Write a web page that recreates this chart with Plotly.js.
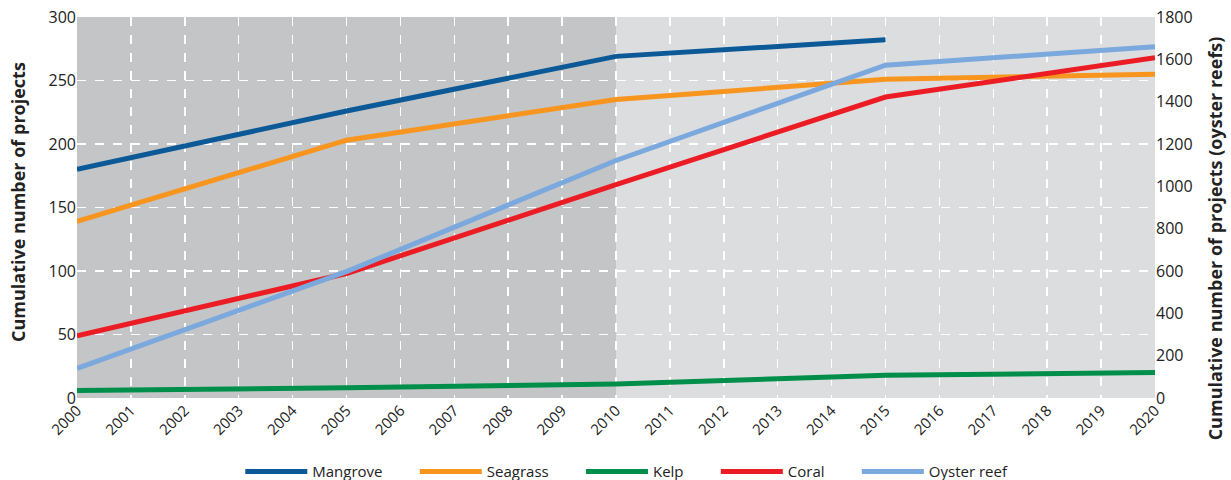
<!DOCTYPE html>
<html>
<head>
<meta charset="utf-8">
<script src="https://cdn.plot.ly/plotly-3.0.1.min.js"></script>
<style>html,body{margin:0;padding:0;background:#fff;}#chart{width:1231px;height:480px;}</style>
</head>
<body>
<div id="chart"></div>
<script>
const years = [2000, 2005, 2010, 2015, 2020];
const mangroveYears = [2000, 2005, 2010, 2015];
const mangrove = [180, 226, 269, 282];
const seagrass = [139, 203, 235, 251, 255];
const kelp = [6, 8, 11, 18, 20];
const coral = [49, 98, 168, 237, 268];
const oysterReef = [140, 597, 1122, 1572, 1660];
const tickYears = [2000,2001,2002,2003,2004,2005,2006,2007,2008,2009,2010,2011,2012,2013,2014,2015,2016,2017,2018,2019,2020];
const periodBounds = [2000, 2010, 2020];
const periodColors = ['#c4c5c7', '#dcdddf'];
const leftTitle = 'Cumulative number of projects';
const rightTitle = 'Cumulative number of projects (oyster reefs)';

const FONT = 'Open Sans, Noto Sans, sans-serif';
const LW = 5;
const PAD = '\u00a0\u00a0\u00a0\u00a0\u00a0\u00a0\u00a0';

const traces = [
  {x: mangroveYears, y: mangrove, name: 'Mangrove' + PAD, mode: 'lines', line: {color: '#0b5a97', width: LW}},
  {x: years, y: seagrass, name: 'Seagrass' + PAD, mode: 'lines', line: {color: '#f7951f', width: LW}},
  {x: years, y: kelp, name: 'Kelp' + PAD, mode: 'lines', line: {color: '#008f4a', width: LW}},
  {x: years, y: coral, name: 'Coral' + PAD, mode: 'lines', line: {color: '#ec1c24', width: LW}},
  {x: years, y: oysterReef, name: 'Oyster reef', mode: 'lines', yaxis: 'y2', line: {color: '#7ba8dd', width: LW}}
];

const shapes = [];
for (let i = 0; i < periodColors.length; i++) {
  shapes.push({type: 'rect', xref: 'x', yref: 'paper', x0: periodBounds[i], x1: periodBounds[i+1], y0: 0, y1: 1,
    fillcolor: periodColors[i], line: {width: 0}, layer: 'below'});
}

const annotations = [
  {text: '<b>' + leftTitle + '</b>', xref: 'paper', yref: 'paper', x: -0.0545, y: 0.515, xanchor: 'center', yanchor: 'middle',
    textangle: -90, showarrow: false, font: {family: FONT, size: 18, color: '#222'}},
  {text: '<b>' + rightTitle + '</b>', xref: 'paper', yref: 'paper', x: 1.056, y: 0.42, xanchor: 'center', yanchor: 'middle',
    textangle: -90, showarrow: false, font: {family: FONT, size: 18, color: '#222'}}
];

const layout = {
  width: 1231, height: 480,
  margin: {l: 77, r: 76, t: 17, b: 82},
  paper_bgcolor: '#ffffff',
  plot_bgcolor: 'rgba(0,0,0,0)',
  font: {family: FONT, color: '#222', size: 15},
  showlegend: true,
  legend: {orientation: 'h', xref: 'paper', x: 0.51, xanchor: 'center', yref: 'container', y: 0.017, yanchor: 'middle',
    font: {family: FONT, size: 15, color: '#222'}, itemwidth: 62},
  xaxis: {range: [2000, 2020], tickvals: tickYears, ticktext: tickYears.map(String), tickangle: -45,
    showgrid: true, gridcolor: '#ffffff', gridwidth: 1.5, griddash: 'dash', zeroline: false,
    showline: false, ticks: '', tickfont: {size: 15}, automargin: false},
  yaxis: {range: [0, 300], dtick: 50, showgrid: true, gridcolor: '#ffffff', gridwidth: 1.5, griddash: 'dash',
    zeroline: false, ticks: '', tickfont: {size: 16}, automargin: false},
  yaxis2: {range: [0, 1800], dtick: 200, overlaying: 'y', side: 'right', showgrid: false, zeroline: false,
    ticks: '', tickfont: {size: 16}, automargin: false},
  shapes: shapes,
  annotations: annotations
};

Plotly.newPlot('chart', traces, layout, {displayModeBar: false, staticPlot: true});
</script>
</body>
</html>
